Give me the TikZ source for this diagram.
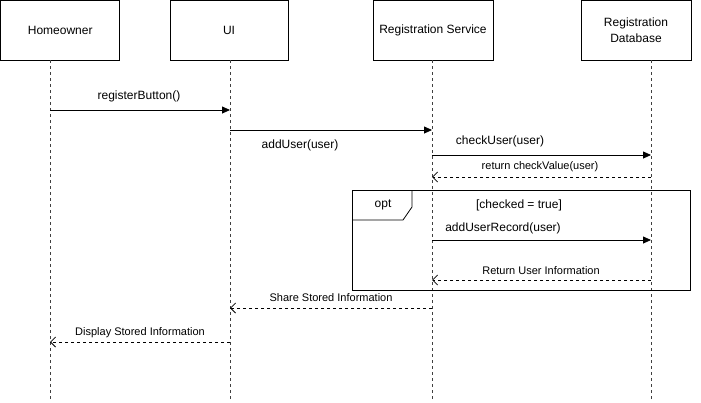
\documentclass[tikz,border=0pt]{standalone}
\usepackage{fontspec}
\setmainfont{Liberation Sans}
\usetikzlibrary{arrows.meta,calc}
\begin{document}
\begin{tikzpicture}[x=1pt,y=-1pt,
 actor/.style={draw,line width=0.8pt, minimum height=60pt, inner sep=0pt, align=center, font=\fontsize{12}{16}\selectfont},
 life/.style={dash pattern=on 3pt off 3pt, line width=0.8pt, draw=black!75},
 msg/.style={-{Triangle[length=8pt,width=7pt]}, line width=0.8pt},
 ret/.style={-{Straight Barb[length=5pt,width=10pt]}, dash pattern=on 3pt off 3pt, line width=0.8pt},
 lbl/.style={font=\fontsize{12}{14}\selectfont, inner sep=0pt},
 slbl/.style={font=\fontsize{11}{13}\selectfont, inner sep=0pt}]
\useasboundingbox (0,0) rectangle (701,402);

% actors
\node[actor, minimum width=119.2pt] (ho) at (60.2,30) {Homeowner};
\node[actor, minimum width=118pt] (ui) at (229,30) {UI};
\node[actor, minimum width=120pt] (rs) at (433,30) {Registration Service};
\node[actor, minimum width=110pt] (rd) at (636,30) {Registration\\Database};

% lifeline ends
\coordinate (hoB) at (50,402);
\coordinate (uiB) at (230,402);
\coordinate (rsB) at (432,402);
\coordinate (rdB) at (651,402);
\draw[life] (hoB |- ho.south) -- (hoB);
\draw[life] (uiB |- ui.south) -- (uiB);
\draw[life] (rsB |- rs.south) -- (rsB);
\draw[life] (rdB |- rd.south) -- (rdB);

% opt frame
\node[draw, line width=0.8pt, minimum width=338pt, minimum height=100pt, inner sep=0pt] (opt) at (521,240) {};
\draw[line width=0.8pt] (352,220) -- (403,220) -- (412,207) -- (412,190);
\node[lbl] (optl) at (383,205) {opt};
\node[lbl] (cond) at (519,205) {[checked = true]};

% messages
\coordinate (m1a) at (50,110);  \coordinate (m1b) at (230,110);
\draw[msg] (m1a) -- (m1b);
\node[lbl] (l1) at (139,96) {registerButton()};

\coordinate (m2a) at (230,130);  \coordinate (m2b) at (432,130);
\draw[msg] (m2a) -- (m2b);
\node[lbl] (l2) at (300,145) {addUser(user)};

\coordinate (m3a) at (432,155);  \coordinate (m3b) at (651,155);
\draw[msg] (m3a) -- (m3b);
\node[lbl] (l3) at (500,141) {checkUser(user)};

\coordinate (m4a) at (651,177);  \coordinate (m4b) at (432,177);
\draw[ret] (m4a) -- (m4b);
\node[slbl] (l4) at (540,167) {return checkValue(user)};

\coordinate (m5a) at (432,240);  \coordinate (m5b) at (651,240);
\draw[msg] (m5a) -- (m5b);
\node[lbl] (l5) at (503,228) {addUserRecord(user)};

\coordinate (m6a) at (651,280);  \coordinate (m6b) at (432,280);
\draw[ret] (m6a) -- (m6b);
\node[slbl] (l6) at (541,271) {Return User Information};

\coordinate (m7a) at (432,308);  \coordinate (m7b) at (230,308);
\draw[ret] (m7a) -- (m7b);
\node[slbl] (l7) at (331,298) {Share Stored Information};

\coordinate (m8a) at (230,342);  \coordinate (m8b) at (50,342);
\draw[ret] (m8a) -- (m8b);
\node[slbl] (l8) at (140,333) {Display Stored Information};
\end{tikzpicture}
\end{document}
